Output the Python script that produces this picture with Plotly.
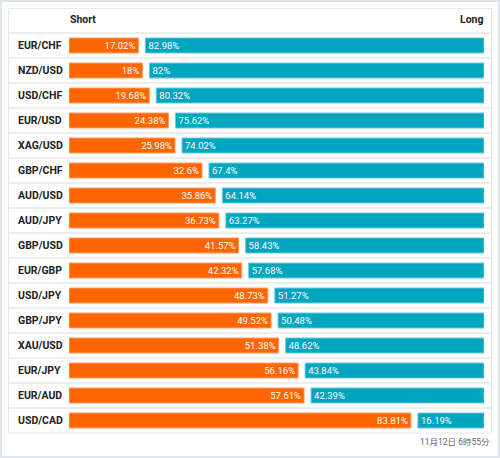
import plotly.graph_objects as go

pairs = ["EUR/CHF", "NZD/USD", "USD/CHF", "EUR/USD", "XAG/USD", "GBP/CHF", "AUD/USD", "AUD/JPY",
         "GBP/USD", "EUR/GBP", "USD/JPY", "GBP/JPY", "XAU/USD", "EUR/JPY", "EUR/AUD", "USD/CAD"]
short_vals = [17.02, 18, 19.68, 24.38, 25.98, 32.6, 35.86, 36.73, 41.57, 42.32, 48.73, 49.52, 51.38, 56.16, 57.61, 83.81]
long_vals = [82.98, 82, 80.32, 75.62, 74.02, 67.4, 64.14, 63.27, 58.43, 57.68, 51.27, 50.48, 48.62, 43.84, 42.39, 16.19]
header_short = "Short"
header_long = "Long"
timestamp = "11月12日 6時55分"

W, H = 500, 458
L, R, T, B = 69, 484, 33, 433  # plot area pixels
GAP = 7 / 408 * 100

def px(x):
    return (x - L) / (R - L)

def py(y):
    return (B - y) / (B - T)

FONT = "Roboto"
ORANGE = "#ff6600"
TEAL = "#00a6c0"

fig = go.Figure()
fig.add_trace(go.Bar(
    y=pairs, x=short_vals, base=[0] * len(pairs), orientation="h",
    marker=dict(color=ORANGE, line=dict(color="#ff9d66", width=1)),
    text=[f"{v:g}%" for v in short_vals], textposition="inside", insidetextanchor="end",
    textangle=0, textfont=dict(color="white", size=9.5, family=FONT),
    hoverinfo="skip", width=0.6,
))
fig.add_trace(go.Bar(
    y=pairs, x=long_vals, base=[s + GAP for s in short_vals], orientation="h",
    marker=dict(color=TEAL, line=dict(color="#6cc9d9", width=1)),
    text=[f"{v:g}%" for v in long_vals], textposition="inside", insidetextanchor="start",
    textangle=0, textfont=dict(color="white", size=9.5, family=FONT),
    hoverinfo="skip", width=0.6,
))

shapes = []
# outer frame
shapes.append(dict(type="rect", xref="paper", yref="paper", x0=px(1), x1=px(W - 1), y0=py(H - 1), y1=py(1),
                   line=dict(color="#dfe6e9", width=2), fillcolor="rgba(0,0,0,0)", layer="below"))
# table
shapes.append(dict(type="rect", xref="paper", yref="paper", x0=px(8.5), x1=px(491.5), y0=py(433), y1=py(8.5),
                   line=dict(color="#e6eaec", width=1), fillcolor="white", layer="below"))
# row separators
for i in range(len(pairs)):
    yy = T + 25 * i
    shapes.append(dict(type="line", xref="paper", yref="paper", x0=px(9), x1=px(491), y0=py(yy), y1=py(yy),
                       line=dict(color="#eeeeee", width=2), layer="below"))

annotations = []
for i, p in enumerate(pairs):
    annotations.append(dict(text=f"<b>{p}</b>", xref="paper", yref="y", x=px(16), y=p, xanchor="left",
                            yanchor="middle", showarrow=False, font=dict(size=10.5, color="#222222", family=FONT)))
annotations.append(dict(text=f"<b>{header_short}</b>", xref="paper", yref="paper", x=px(68), y=py(19),
                        xanchor="left", yanchor="middle", showarrow=False,
                        font=dict(size=10.5, color="#222222", family=FONT)))
annotations.append(dict(text=f"<b>{header_long}</b>", xref="paper", yref="paper", x=px(486), y=py(19),
                        xanchor="right", yanchor="middle", showarrow=False,
                        font=dict(size=10.5, color="#222222", family=FONT)))
annotations.append(dict(text=timestamp, xref="paper", yref="paper", x=px(492), y=py(442),
                        xanchor="right", yanchor="middle", showarrow=False,
                        font=dict(size=8.5, color="#666666", family="Roboto, Noto Sans CJK JP")))

fig.update_layout(
    width=W, height=H,
    margin=dict(l=L, r=W - R, t=T, b=H - B, pad=0),
    paper_bgcolor="white", plot_bgcolor="rgba(0,0,0,0)",
    barmode="overlay", showlegend=False,
    xaxis=dict(range=[0, 100 + GAP], visible=False, fixedrange=True),
    yaxis=dict(autorange="reversed", visible=False, fixedrange=True, type="category"),
    shapes=shapes, annotations=annotations,
    uniformtext=dict(minsize=9.5, mode="show"),
    font=dict(family=FONT),
)

fig.write_html("out.html", config={"displayModeBar": False},
               post_script="document.body.style.margin='0';document.body.style.overflow='hidden';")
